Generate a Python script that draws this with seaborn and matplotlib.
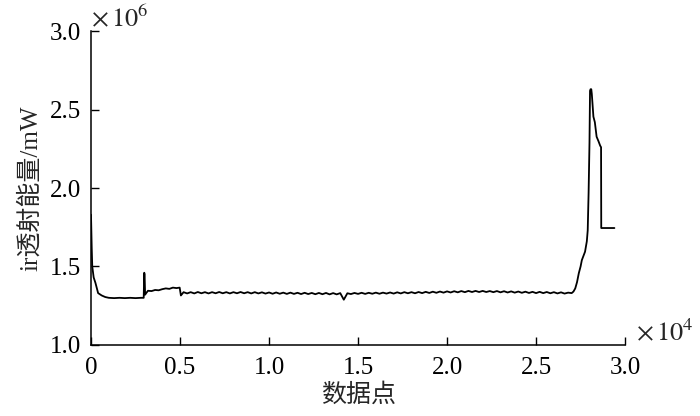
import matplotlib
matplotlib.use('Agg')
import matplotlib.pyplot as plt
import seaborn as sns
import pandas as pd
from matplotlib.ticker import FuncFormatter

sns.set_style('ticks')
plt.rcParams['font.family'] = ['Liberation Serif', 'Noto Sans CJK SC', 'DejaVu Sans']
plt.rcParams['mathtext.fontset'] = 'stix'
plt.rcParams['axes.unicode_minus'] = False

# 数据点 (原始单位) 与 透射能量 (单位 1e6 mW)
x_start = [0, 40, 70, 150, 250, 400, 600, 800, 1000, 1300, 1600, 1900, 2200,
           2500, 2800, 2960, 2990, 3010, 3040, 3100, 3200, 3400, 3600, 3800,
           4000, 4200, 4400, 4600, 4800, 4980, 5050]
y_start = [1.83, 1.62, 1.50, 1.43, 1.395, 1.33, 1.315, 1.305, 1.30, 1.298,
           1.30, 1.298, 1.30, 1.298, 1.30, 1.30, 1.46, 1.45, 1.32, 1.33,
           1.345, 1.343, 1.35, 1.348, 1.355, 1.36, 1.357, 1.365, 1.362,
           1.365, 1.315]

x_mid = [5200, 5400, 5600, 5800, 6000, 6200, 6400, 6600, 6800, 7000,
         7200, 7400, 7600, 7800, 8000, 8200, 8400, 8600, 8800, 9000,
         9200, 9400, 9600, 9800, 10000, 10200, 10400, 10600, 10800, 11000,
         11200, 11400, 11600, 11800, 12000, 12200, 12400, 12600, 12800, 13000,
         13200, 13400, 13600, 13800, 14000, 14200, 14400, 14600, 14800, 15000,
         15200, 15400, 15600, 15800, 16000, 16200, 16400, 16600, 16800, 17000,
         17200, 17400, 17600, 17800, 18000, 18200, 18400, 18600, 18800, 19000,
         19200, 19400, 19600, 19800, 20000, 20200, 20400, 20600, 20800, 21000,
         21200, 21400, 21600, 21800, 22000, 22200, 22400, 22600, 22800, 23000,
         23200, 23400, 23600, 23800, 24000, 24200, 24400, 24600, 24800, 25000,
         25200, 25400, 25600, 25800, 26000, 26200, 26400, 26600, 26800, 27000]
y_mid = [1.336, 1.328, 1.336, 1.328, 1.337, 1.329, 1.336, 1.328, 1.336, 1.329,
         1.337, 1.329, 1.336, 1.328, 1.336, 1.329, 1.337, 1.329, 1.336, 1.328,
         1.336, 1.328, 1.335, 1.327, 1.334, 1.326, 1.334, 1.326, 1.333, 1.325,
         1.333, 1.325, 1.332, 1.324, 1.332, 1.324, 1.331, 1.323, 1.331, 1.323,
         1.331, 1.322, 1.330, 1.322, 1.330, 1.288, 1.329, 1.324, 1.331, 1.325,
         1.332, 1.325, 1.332, 1.326, 1.333, 1.326, 1.333, 1.327, 1.334, 1.327,
         1.335, 1.328, 1.336, 1.329, 1.336, 1.329, 1.337, 1.330, 1.338, 1.331,
         1.339, 1.332, 1.340, 1.333, 1.341, 1.334, 1.342, 1.335, 1.343, 1.336,
         1.344, 1.337, 1.344, 1.337, 1.344, 1.337, 1.343, 1.336, 1.343, 1.335,
         1.342, 1.334, 1.341, 1.333, 1.340, 1.332, 1.339, 1.331, 1.338, 1.330,
         1.338, 1.330, 1.337, 1.329, 1.336, 1.328, 1.335, 1.327, 1.333, 1.330]

x_end = [27100, 27200, 27300, 27400, 27500, 27570, 27700, 27750, 27850, 27900,
         27950, 28000, 28030, 28060, 28100, 28130, 28220, 28300, 28400, 28500,
         28600, 28650, 28660, 29400]
y_end = [1.34, 1.36, 1.40, 1.457, 1.50, 1.54, 1.58, 1.594, 1.66, 1.73,
         1.97, 2.29, 2.62, 2.63, 2.63, 2.60, 2.455, 2.42, 2.327, 2.30,
         2.27, 2.26, 1.745, 1.745]

df = pd.DataFrame({
    'x': x_start + x_mid + x_end,
    'y': [v * 1e6 for v in y_start + y_mid + y_end],
})

fig = plt.figure(figsize=(7, 4.16), dpi=100)
ax = fig.add_axes([0.13, 0.171, 0.763, 0.754])

sns.lineplot(data=df, x='x', y='y', ax=ax, color='black', linewidth=1.3,
             sort=False, estimator=None)

ax.set_xlim(0, 30000)
ax.set_ylim(1.0e6, 3.0e6)
ax.set_xticks([0, 5000, 10000, 15000, 20000, 25000, 30000])
ax.set_yticks([1.0e6, 1.5e6, 2.0e6, 2.5e6, 3.0e6])
ax.xaxis.set_major_formatter(FuncFormatter(lambda v, p: '0' if v == 0 else f'{v / 1e4:.1f}'))
ax.yaxis.set_major_formatter(FuncFormatter(lambda v, p: f'{v / 1e6:.1f}'))
ax.tick_params(direction='in', length=6, width=1, labelsize=18, colors='black', pad=7)
ax.tick_params(axis='x', pad=9)

for s in ['top', 'right']:
    ax.spines[s].set_visible(False)
for s in ['left', 'bottom']:
    ax.spines[s].set_linewidth(1.1)
    ax.spines[s].set_color('black')

ax.set_xlabel('数据点', fontsize=18, labelpad=3)
ax.set_ylabel('ir透射能量/mW', fontsize=18, labelpad=6)

ax.text(0.0, 1.0, r'$\times\,10^{6}$', transform=ax.transAxes, fontsize=19,
        ha='left', va='bottom')
ax.text(1.02, 0.0, r'$\times\,10^{4}$', transform=ax.transAxes, fontsize=19,
        ha='left', va='bottom')

fig.savefig('out.png', dpi=100)
